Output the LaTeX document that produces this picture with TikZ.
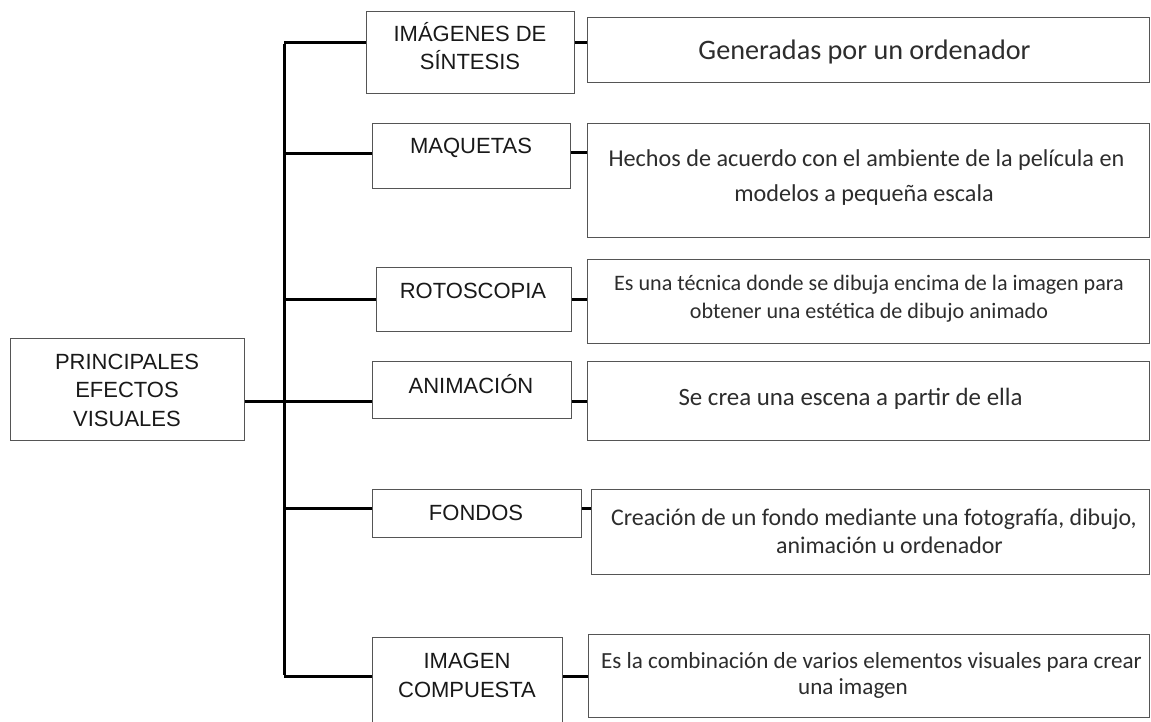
\documentclass[tikz,border=0pt]{standalone}
\usepackage{fontspec}
\setmainfont{Carlito}
\newfontfamily\arialf{Liberation Sans}
\definecolor{boxgray}{RGB}{85,85,85}
\definecolor{txtdark}{RGB}{25,25,25}
\definecolor{txtgray}{RGB}{45,45,45}
\begin{document}
\begin{tikzpicture}[x=1pt,y=-1pt,
  box/.style={draw=boxgray, line width=1.3pt, rectangle, inner sep=0pt, anchor=north west},
  conn/.style={line width=3pt, black},
  ltxt/.style={font=\arialf\fontsize{22}{26}\selectfont, text=txtdark, inner sep=0pt, anchor=base},
  dtxt/.style={text=txtgray, inner sep=0pt, anchor=base}]
\useasboundingbox[fill=white] (0,0) rectangle (1151,722);

% left boxes
\node[box, minimum width=234pt, minimum height=102pt] (root) at (10,338) {};
\node[box, minimum width=208pt, minimum height=82pt] (b1) at (366,11) {};
\node[box, minimum width=198pt, minimum height=65pt] (b2) at (372,123) {};
\node[box, minimum width=195pt, minimum height=64pt] (b3) at (376,267) {};
\node[box, minimum width=199pt, minimum height=57pt] (b4) at (372,361) {};
\node[box, minimum width=209pt, minimum height=48pt] (b5) at (372,489) {};
\node[box, minimum width=190pt, minimum height=95pt] (b6) at (372,637) {};

% description boxes
\node[box, minimum width=562pt, minimum height=65pt] (d1) at (587,17) {};
\node[box, minimum width=562pt, minimum height=114pt] (d2) at (587,123) {};
\node[box, minimum width=562pt, minimum height=84pt] (d3) at (587,259) {};
\node[box, minimum width=562pt, minimum height=79pt] (d4) at (587,361) {};
\node[box, minimum width=558pt, minimum height=85pt] (d5) at (591,489) {};
\node[box, minimum width=561pt, minimum height=83pt] (d6) at (588,634) {};

% left texts
\node[ltxt] (r1) at (127,369) {PRINCIPALES};
\node[ltxt] (r2) at (127,397) {EFECTOS};
\node[ltxt] (r3) at (127,426) {VISUALES};
\node[ltxt] (t1a) at (470,42) {IMÁGENES DE};
\node[ltxt] (t1b) at (470,70) {SÍNTESIS};
\node[ltxt] (t2) at (471,154) {MAQUETAS};
\node[ltxt] (t3) at (473,298) {ROTOSCOPIA};
\node[ltxt] (t4) at (471,393) {ANIMACIÓN};
\node[ltxt] (t5) at (476,520) {FONDOS};
\node[ltxt] (t6a) at (467,668) {IMAGEN};
\node[ltxt] (t6b) at (467,697) {COMPUESTA};

% description texts
\node[dtxt, font=\fontsize{28.2}{33}\selectfont] (e1) at (864.5,60) {Generadas por un ordenador};
\node[dtxt, font=\fontsize{24.2}{29}\selectfont] (e2a) at (866.5,167) {Hechos de acuerdo con el ambiente de la película en};
\node[dtxt, font=\fontsize{24.2}{29}\selectfont] (e2b) at (864,202) {modelos a pequeña escala};
\node[dtxt, font=\fontsize{22.1}{27}\selectfont] (e3a) at (869,290) {Es una técnica donde se dibuja encima de la imagen para};
\node[dtxt, font=\fontsize{22.1}{27}\selectfont] (e3b) at (869,318) {obtener una estética de dibujo animado};
\node[dtxt, font=\fontsize{24.9}{29}\selectfont] (e4) at (850.5,405) {Se crea una escena a partir de ella};
\node[dtxt, font=\fontsize{23.9}{28}\selectfont] (e5a) at (874,525) {Creación de un fondo mediante una fotografía, dibujo,};
\node[dtxt, font=\fontsize{23.9}{28}\selectfont] (e5b) at (889.5,553) {animación u ordenador};
\node[dtxt, font=\fontsize{23.1}{27}\selectfont] (e6a) at (871.5,668) {Es la combinación de varios elementos visuales para crear};
\node[dtxt, font=\fontsize{23.1}{27}\selectfont] (e6b) at (853,694) {una imagen};

% trunk and branches
\coordinate (j1) at (284,43);
\coordinate (j2) at (284,154);
\coordinate (j3) at (284,299);
\coordinate (j4) at (284,401);
\coordinate (j5) at (284,508);
\coordinate (j6) at (284,676);
\coordinate (c2) at (284,153);
\draw[conn] ([yshift=-1.5pt]j1) -- ([yshift=1.5pt]j6);
\draw[conn] (root.east |- j4) -- (b4.west |- j4);
\draw[conn] (j1) -- (b1.west |- j1);
\draw[conn] (j2) -- (b2.west |- j2);
\draw[conn] (j3) -- (b3.west |- j3);
\draw[conn] (j5) -- (b5.west |- j5);
\draw[conn] (j6) -- (b6.west |- j6);

% box-to-description connectors
\draw[conn] (b1.east |- j1) -- (d1.west |- j1);
\draw[conn] (b2.east |- c2) -- (d2.west |- c2);
\draw[conn] (b3.east |- j3) -- (d3.west |- j3);
\draw[conn] (b4.east |- j4) -- (d4.west |- j4);
\draw[conn] (b5.east |- j5) -- (d5.west |- j5);
\draw[conn] (b6.east |- j6) -- (d6.west |- j6);
\end{tikzpicture}
\end{document}
